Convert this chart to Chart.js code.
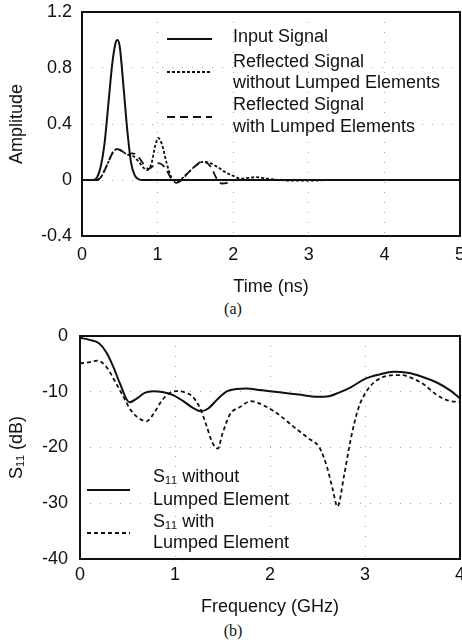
<!DOCTYPE html>
<html>
<head>
<meta charset="utf-8">
<script src="https://cdn.jsdelivr.net/npm/chart.js@4"></script>
<style>
  body { margin: 0; background: #fff; }
  #wrap { position: relative; width: 462px; height: 641px; overflow: hidden; }
  canvas { position: absolute; left: 0; }
  .cap { position: absolute; left: 0; width: 466px; height: 20px; line-height: 20px;
         text-align: center; font: 16px "Liberation Serif", "DejaVu Serif", serif; color: #111; }
</style>
</head>
<body>
<div id="wrap">
  <canvas id="chartA" width="462" height="300" style="top:0"></canvas>
  <div class="cap" style="top:300px">(a)</div>
  <canvas id="chartB" width="462" height="300" style="top:320px"></canvas>
  <div class="cap" style="top:622px">(b)</div>
</div>
<script>
// ---- (a) time domain ----
const timeTicks = [0, 1, 2, 3, 4, 5];
const ampTicks = [-0.4, 0, 0.4, 0.8, 1.2];
const legendA = ['Input Signal', 'Reflected Signal\nwithout Lumped Elements', 'Reflected Signal\nwith Lumped Elements'];

const tInput = [0, 0.15, 0.2, 0.25, 0.3, 0.35, 0.4, 0.45, 0.47, 0.5, 0.55, 0.6, 0.65, 0.7, 0.75, 0.8, 5];
const aInput = [0, 0, 0.02, 0.1, 0.27, 0.55, 0.83, 0.99, 1.0, 0.95, 0.66, 0.35, 0.12, 0.03, 0.005, 0, 0];

const tNoLumped = [0, 0.2, 0.25, 0.3, 0.35, 0.4, 0.46, 0.52, 0.6, 0.68, 0.75, 0.81, 0.86, 0.92, 0.97, 1.01, 1.06, 1.12, 1.18, 1.25, 1.32, 1.4, 1.5, 1.6, 1.7, 1.8, 1.9, 2.0, 2.1, 2.2, 2.3, 2.45, 2.6, 2.8, 3.0, 3.3, 5];
const aNoLumped = [0, 0, 0.02, 0.07, 0.13, 0.19, 0.22, 0.21, 0.18, 0.17, 0.13, 0.09, 0.07, 0.12, 0.25, 0.30, 0.25, 0.12, 0.02, -0.01, 0.01, 0.05, 0.1, 0.13, 0.12, 0.09, 0.055, 0.03, 0.01, 0.015, 0.02, 0.01, 0, -0.005, -0.005, 0, 0];

const tLumped = [0, 0.2, 0.25, 0.3, 0.35, 0.4, 0.46, 0.52, 0.6, 0.66, 0.72, 0.78, 0.83, 0.88, 0.94, 1.0, 1.06, 1.12, 1.18, 1.25, 1.32, 1.4, 1.5, 1.58, 1.66, 1.72, 1.78, 1.85, 1.92, 2.0, 2.1, 5];
const aLumped = [0, 0, 0.02, 0.07, 0.13, 0.19, 0.22, 0.21, 0.18, 0.19, 0.18, 0.14, 0.1, 0.08, 0.1, 0.12, 0.11, 0.07, 0.01, -0.02, 0, 0.05, 0.1, 0.13, 0.12, 0.08, 0.01, -0.025, -0.02, 0, 0, 0];

// ---- (b) S11 ----
const freqTicks = [0, 1, 2, 3, 4];
const dbTicks = [-40, -30, -20, -10, 0];
const legendB = ['S\u2081\u2081 without\nLumped Element', 'S\u2081\u2081 with\nLumped Element'];

const fNoLumped = [0, 0.1, 0.2, 0.28, 0.35, 0.42, 0.52, 0.6, 0.68, 0.77, 0.88, 0.98, 1.08, 1.18, 1.27, 1.35, 1.45, 1.55, 1.65, 1.75, 1.9, 2.1, 2.3, 2.5, 2.62, 2.72, 2.85, 3.0, 3.15, 3.3, 3.45, 3.6, 3.75, 3.9, 4.0];
const sNoLumped = [-0.3, -0.7, -1.3, -3, -5.5, -8.5, -11.9, -11.2, -10.2, -9.9, -10.1, -10.6, -11.6, -12.8, -13.5, -13, -11.3, -9.9, -9.5, -9.4, -9.7, -10.1, -10.5, -10.9, -10.8, -10.2, -9.2, -7.7, -6.9, -6.4, -6.6, -7.3, -8.3, -9.8, -11.2];

const fLumped = [0, 0.1, 0.18, 0.28, 0.38, 0.46, 0.53, 0.6, 0.7, 0.78, 0.86, 0.94, 1.02, 1.1, 1.18, 1.26, 1.33, 1.39, 1.45, 1.5, 1.58, 1.68, 1.8, 1.95, 2.1, 2.25, 2.4, 2.52, 2.6, 2.66, 2.71, 2.78, 2.85, 2.93, 3.02, 3.12, 3.25, 3.38, 3.5, 3.62, 3.75, 3.88, 4.0];
const sLumped = [-4.9, -4.7, -4.4, -5.6, -8.5, -11, -13.2, -14.5, -15.3, -13.8, -11.6, -10.3, -9.9, -10.1, -10.8, -12.8, -16, -19, -20.2, -17.5, -14, -12.8, -11.7, -12.6, -14.2, -16.3, -18.3, -20, -23.5, -27.5, -30.6, -25, -18.5, -13, -9.8, -8, -7.1, -7, -7.6, -8.7, -10.5, -11.6, -11.8];

const pts = (xs, ys) => xs.map((x, i) => ({ x, y: ys[i] }));

Chart.defaults.font.family = '"Liberation Sans", Arial, sans-serif';
Chart.defaults.font.size = 18;
Chart.defaults.color = '#111';

// black frame round the plot area
const framePlugin = {
    id: 'frame',
    afterDraw(chart) {
        const { ctx, chartArea: a } = chart;
        ctx.save();
        ctx.strokeStyle = '#111';
        ctx.lineWidth = 2;
        ctx.setLineDash([]);
        ctx.strokeRect(a.left, a.top, a.width, a.height);
        ctx.restore();
    }
};

// legend drawn inside the plot, multi-line labels
const insideLegend = {
    id: 'insideLegend',
    afterDraw(chart, args, opts) {
        const ctx = chart.ctx;
        ctx.save();
        ctx.font = '18px "Liberation Sans", Arial, sans-serif';
        ctx.fillStyle = '#111';
        ctx.textBaseline = 'middle';
        opts.entries.forEach((e, i) => {
            const ds = chart.data.datasets[i];
            ctx.strokeStyle = '#111';
            ctx.lineWidth = ds.borderWidth;
            ctx.setLineDash(ds.borderDash || []);
            ctx.beginPath();
            ctx.moveTo(opts.x0, e.lineY);
            ctx.lineTo(opts.x1, e.lineY);
            ctx.stroke();
            ds.label.split('\n').forEach((line, j) => {
                ctx.fillText(line, opts.textX, e.textY[j]);
            });
        });
        ctx.restore();
    }
};

// very faint dotted grid like the scan
const gridStyle = { color: 'rgba(0,0,0,0.35)', lineWidth: 1, drawTicks: false };
const borderStyle = { display: false, dash: [1, 9] };

function lineDs(label, data, dash, width) {
    return {
        label, data,
        borderColor: '#111',
        borderWidth: width,
        borderDash: dash,
        pointRadius: 0,
        fill: false,
        cubicInterpolationMode: 'monotone'
    };
}

new Chart(document.getElementById('chartA').getContext('2d'), {
    type: 'line',
    data: {
        datasets: [
            lineDs(legendA[0], pts(tInput, aInput), [], 2),
            lineDs(legendA[1], pts(tNoLumped, aNoLumped), [3, 2], 1.8),
            lineDs(legendA[2], pts(tLumped, aLumped), [8, 5], 1.8)
        ]
    },
    options: {
        responsive: false,
        animation: false,
        layout: { padding: { top: 12, right: 2, left: 0, bottom: 0 } },
        plugins: {
            legend: { display: false },
            tooltip: { enabled: false },
            insideLegend: {
                x0: 167, x1: 212, textX: 233,
                entries: [
                    { lineY: 39, textY: [37] },
                    { lineY: 72, textY: [62, 83] },
                    { lineY: 117, textY: [105, 127] }
                ]
            }
        },
        scales: {
            x: {
                type: 'linear', min: 0, max: 5,
                afterBuildTicks: s => { s.ticks = timeTicks.map(v => ({ value: v })); },
                afterFit: s => { s.height = 64; s.paddingLeft = 0; s.paddingRight = 0; },
                ticks: { padding: 8, callback: v => String(v) },
                grid: gridStyle,
                border: borderStyle,
                title: { display: true, text: 'Time (ns)', padding: { top: 0, bottom: 2 } }
            },
            y: {
                type: 'linear', min: -0.4, max: 1.2,
                afterBuildTicks: s => { s.ticks = ampTicks.map(v => ({ value: v })); },
                afterFit: s => { s.width = 82; s.paddingTop = 0; s.paddingBottom = 0; },
                ticks: { padding: 10, callback: v => String(Math.round(v * 10) / 10) },
                grid: gridStyle,
                border: borderStyle,
                title: { display: true, text: 'Amplitude', padding: { top: 6, bottom: 0 } }
            }
        }
    },
    plugins: [framePlugin, insideLegend]
});

new Chart(document.getElementById('chartB').getContext('2d'), {
    type: 'line',
    data: {
        datasets: [
            lineDs(legendB[0], pts(fNoLumped, sNoLumped), [], 2),
            lineDs(legendB[1], pts(fLumped, sLumped), [4, 3], 1.8)
        ]
    },
    options: {
        responsive: false,
        animation: false,
        layout: { padding: { top: 16, right: 2, left: 0, bottom: 0 } },
        plugins: {
            legend: { display: false },
            tooltip: { enabled: false },
            insideLegend: {
                x0: 87, x1: 130, textX: 153,
                entries: [
                    { lineY: 170, textY: [157, 180] },
                    { lineY: 213, textY: [202, 223] }
                ]
            }
        },
        scales: {
            x: {
                type: 'linear', min: 0, max: 4,
                afterBuildTicks: s => { s.ticks = freqTicks.map(v => ({ value: v })); },
                afterFit: s => { s.height = 61; s.paddingLeft = 0; s.paddingRight = 0; },
                ticks: { padding: 5, callback: v => String(v) },
                grid: gridStyle,
                border: borderStyle,
                title: { display: true, text: 'Frequency (GHz)', padding: { top: 0, bottom: 2 } }
            },
            y: {
                type: 'linear', min: -40, max: 0,
                afterBuildTicks: s => { s.ticks = dbTicks.map(v => ({ value: v })); },
                afterFit: s => { s.width = 80; s.paddingTop = 0; s.paddingBottom = 0; },
                ticks: { padding: 12, callback: v => String(v) },
                grid: gridStyle,
                border: borderStyle,
                title: { display: true, text: 'S\u2081\u2081 (dB)', padding: { top: 6, bottom: 0 } }
            }
        }
    },
    plugins: [framePlugin, insideLegend]
});
</script>
</body>
</html>
